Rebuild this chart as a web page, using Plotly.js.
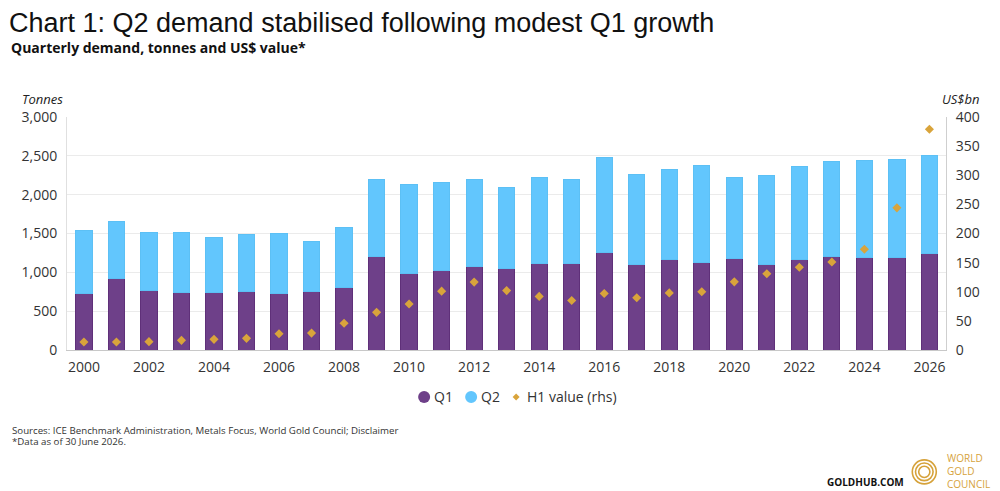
<!DOCTYPE html>
<html>
<head>
<meta charset="utf-8">
<script src="https://cdn.plot.ly/plotly-3.0.1.min.js"></script>
<style>
html,body{margin:0;padding:0;background:#fff;}
#chart{width:1000px;height:491px;}
</style>
</head>
<body>
<div id="chart"></div>
<script>
// ---- Data ----
const years = [2000,2001,2002,2003,2004,2005,2006,2007,2008,2009,2010,2011,2012,2013,2014,2015,2016,2017,2018,2019,2020,2021,2022,2023,2024,2025,2026];
const q1Tonnes = [729,917,763,737,737,750,729,750,801,1204,986,1020,1071,1046,1114,1114,1251,1101,1161,1123,1174,1106,1166,1204,1187,1187,1239];
const q2Tonnes = [814,742,750,772,707,737,771,647,780,990,1144,1136,1123,1041,1102,1076,1222,1158,1158,1251,1046,1144,1191,1222,1247,1264,1268];
const h1ValueUsdBn = [13.7,13.7,14.3,16.6,18.3,20,28,29,46,64.6,79,101,116.6,102,92,85,97,89.7,98,100,117,131,142,151,173,244,379];
const xTickVals = [2000,2002,2004,2006,2008,2010,2012,2014,2016,2018,2020,2022,2024,2026];
const leftTickVals = [0,500,1000,1500,2000,2500,3000];
const rightTickVals = [0,50,100,150,200,250,300,350,400];

const titleText = "Chart 1: Q2 demand stabilised following modest Q1 growth";
const subtitleText = "Quarterly demand, tonnes and US$ value*";
const legendLabels = ["Q1","Q2","H1 value (rhs)"];

// ---- Styling ----
const PURPLE = "#6e4089", PURPLE_LINE = "#5f3079";
const BLUE = "#62c6fd", BLUE_LINE = "#5cc0f5";
const GOLD = "#d9a43b";
const LOGO_GOLD = "#d6a23a";

const W = 1000, H = 491;
const M = {l:67, r:54.3, t:116.7, b:141};
const PW = W - M.l - M.r, PH = H - M.t - M.b;
const px = X => (X - M.l) / PW;
const py = Y => (H - M.b - Y) / PH;

const traces = [
  {type:"bar", x:years, y:q1Tonnes, name:legendLabels[0], marker:{color:PURPLE, line:{color:PURPLE_LINE, width:1}}, showlegend:false, hoverinfo:"x+y"},
  {type:"bar", x:years, y:q2Tonnes, name:legendLabels[1], marker:{color:BLUE, line:{color:BLUE_LINE, width:1}}, showlegend:false, hoverinfo:"x+y"},
  {type:"scatter", mode:"markers", x:years, y:h1ValueUsdBn, yaxis:"y2", name:legendLabels[2], marker:{symbol:"diamond", size:7, color:GOLD}, showlegend:false}
];

const font = "'Open Sans', sans-serif";
const annotations = [
  {text:titleText, xref:"paper", yref:"paper", x:px(7), y:py(23), xanchor:"left", yanchor:"middle", showarrow:false, font:{family:"'Liberation Sans', Arial, sans-serif", size:27, color:"#111"}},
  {text:"<b>"+subtitleText+"</b>", xref:"paper", yref:"paper", x:px(9), y:py(47), xanchor:"left", yanchor:"middle", showarrow:false, font:{family:font, size:14, color:"#111"}},
  {text:"<i>Tonnes</i>", xref:"paper", yref:"paper", x:px(20), y:py(99), xanchor:"left", yanchor:"middle", showarrow:false, font:{family:font, size:13, color:"#222"}},
  {text:"<i>US$bn</i>", xref:"paper", yref:"paper", x:px(982), y:py(99), xanchor:"right", yanchor:"middle", showarrow:false, font:{family:font, size:13, color:"#222"}},
  // legend labels
  {text:legendLabels[0], xref:"paper", yref:"paper", x:px(432), y:py(397), xanchor:"left", yanchor:"middle", showarrow:false, font:{family:font, size:14, color:"#333"}},
  {text:legendLabels[1], xref:"paper", yref:"paper", x:px(479), y:py(397), xanchor:"left", yanchor:"middle", showarrow:false, font:{family:font, size:14, color:"#333"}},
  {text:legendLabels[2], xref:"paper", yref:"paper", x:px(525), y:py(397), xanchor:"left", yanchor:"middle", showarrow:false, font:{family:font, size:14, color:"#333"}},
  // footer
  {text:"Sources: ICE Benchmark Administration, Metals Focus, World Gold Council; Disclaimer", xref:"paper", yref:"paper", x:px(10), y:py(431), xanchor:"left", yanchor:"middle", showarrow:false, font:{family:font, size:9.7, color:"#333"}},
  {text:"*Data as of 30 June 2026.", xref:"paper", yref:"paper", x:px(10), y:py(442), xanchor:"left", yanchor:"middle", showarrow:false, font:{family:font, size:9.7, color:"#333"}},
  {text:"<b>GOLDHUB.COM</b>", xref:"paper", yref:"paper", x:px(825), y:py(482), xanchor:"left", yanchor:"middle", showarrow:false, font:{family:font, size:10, color:"#111"}},
  {text:"WORLD<br>GOLD<br>COUNCIL", xref:"paper", yref:"paper", x:px(945), y:py(471.5), xanchor:"left", yanchor:"middle", align:"left", showarrow:false, font:{family:font, size:10, color:LOGO_GOLD}}
];

function pxCircle(cx, cy, r, style){
  return Object.assign({type:"circle", xref:"paper", yref:"paper", xsizemode:"pixel", ysizemode:"pixel",
    xanchor:px(cx), yanchor:py(cy), x0:-r, x1:r, y0:-r, y1:r}, style);
}
const shapes = [
  pxCircle(424, 397, 6, {fillcolor:PURPLE, line:{width:0}}),
  pxCircle(471, 397, 6, {fillcolor:BLUE, line:{width:0}}),
  {type:"path", xref:"paper", yref:"paper", xsizemode:"pixel", ysizemode:"pixel", xanchor:px(516), yanchor:py(397),
   path:"M0,3.5 L3.5,0 L0,-3.5 L-3.5,0 Z", fillcolor:GOLD, line:{width:0}},
  // logo rings
  pxCircle(924, 472, 12, {line:{color:LOGO_GOLD, width:1.6}}),
  pxCircle(924, 472, 8.8, {line:{color:LOGO_GOLD, width:1.6}}),
  pxCircle(924, 472, 5.6, {line:{color:LOGO_GOLD, width:1.6}})
];

const layout = {
  width:W, height:H,
  margin:{l:M.l, r:M.r, t:M.t, b:M.b, pad:0},
  paper_bgcolor:"#fff", plot_bgcolor:"#fff",
  barmode:"stack", bargap:0.5,
  showlegend:false,
  font:{family:font, color:"#333"},
  xaxis:{range:[1999.48, 2026.51], tickvals:xTickVals, ticktext:xTickVals.map(String),
    showgrid:false, zeroline:false, showline:true, linecolor:"#c8c8c8", linewidth:1,
    ticks:"outside", ticklen:4, tickcolor:"rgba(0,0,0,0)", tickfont:{family:font, size:14, color:"#333"}},
  yaxis:{range:[0,3000], tickvals:leftTickVals, ticktext:leftTickVals.map(v=>v.toLocaleString("en-US")),
    showgrid:true, gridcolor:"#ebebeb", gridwidth:1, zeroline:false, showline:true, linecolor:"#e0e0e0", linewidth:1,
    ticks:"outside", ticklen:6, tickcolor:"rgba(0,0,0,0)", tickfont:{family:font, size:14, color:"#333"}},
  yaxis2:{range:[0,400], tickvals:rightTickVals, overlaying:"y", side:"right", showgrid:false, zeroline:false,
    showline:true, linecolor:"#cfcfcf", linewidth:1,
    ticks:"outside", ticklen:6, tickcolor:"rgba(0,0,0,0)", tickfont:{family:font, size:14, color:"#333"}},
  annotations:annotations,
  shapes:shapes
};

Plotly.newPlot("chart", traces, layout, {staticPlot:true, displayModeBar:false});
</script>
</body>
</html>
